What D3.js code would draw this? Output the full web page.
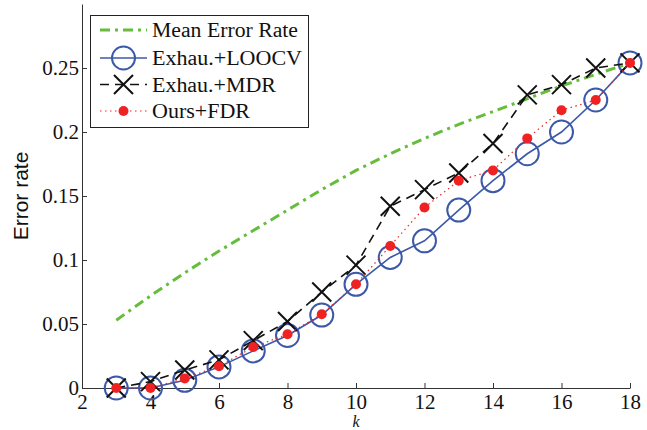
<!DOCTYPE html>
<html>
<head>
<meta charset="utf-8">
<script src="https://cdn.jsdelivr.net/npm/d3@7"></script>
<style>
  html, body { margin: 0; padding: 0; background: #fff; }
  svg { display: block; }
</style>
</head>
<body>
<div id="chart"></div>
<script>
// values
const kValues = [3, 4, 5, 6, 7, 8, 9, 10, 11, 12, 13, 14, 15, 16, 17, 18];
const meanError = [0.053, 0.072, 0.090, 0.107, 0.123, 0.139, 0.155, 0.170, 0.183, 0.195, 0.206, 0.216, 0.226, 0.236, 0.245, 0.254];
const loocv = [0, 0, 0.006, 0.0165, 0.029, 0.041, 0.057, 0.081, 0.102, 0.115, 0.139, 0.162, 0.183, 0.200, 0.225, 0.254];
const mdr = [0, 0.005, 0.014, 0.022, 0.037, 0.052, 0.075, 0.096, 0.142, 0.155, 0.168, 0.191, 0.229, 0.237, 0.250, 0.254];
const fdr = [0, 0, 0.0075, 0.017, 0.032, 0.042, 0.0576, 0.081, 0.111, 0.141, 0.162, 0.170, 0.195, 0.217, 0.225, 0.254];
const xTicks = [2, 4, 6, 8, 10, 12, 14, 16, 18];
const yTicks = [0, 0.05, 0.1, 0.15, 0.2, 0.25];
const legendNames = ["Mean Error Rate", "Exhau.+LOOCV", "Exhau.+MDR", "Ours+FDR"];

const width = 647;
const height = 430;
const serif = "'Liberation Serif', 'Times New Roman', serif";

const colGreen = "#66bd3c";
const colBlue = "#3c58a8";
const colBlack = "#111";
const colRed = "#ee2222";

const svg = d3.select("#chart")
  .append("svg")
  .attr("width", width)
  .attr("height", height);

svg.append("rect").attr("width", width).attr("height", height).attr("fill", "#fff");

const x = d3.scaleLinear().domain([2, 18]).range([82, 630]);
const y = d3.scaleLinear().domain([0, 0.3]).range([388, 4]);

// axes, ticks point inward like matlab
const xAxis = (g) => g
  .call(d3.axisBottom(x).tickValues(xTicks).tickSizeInner(-5).tickSizeOuter(0).tickPadding(6)
    .tickFormat(d3.format("d")))
  .call((g) => g.selectAll("text").attr("font-family", serif).attr("font-size", 21).attr("fill", "#111"))
  .call((g) => g.selectAll("line, path").attr("stroke", "#333"));

const yAxis = (g) => g
  .call(d3.axisLeft(y).tickValues(yTicks).tickSizeInner(-5).tickSizeOuter(0).tickPadding(3)
    .tickFormat((d) => d === 0 ? "0" : String(+d.toFixed(2))))
  .call((g) => g.selectAll("text").attr("font-family", serif).attr("font-size", 21).attr("fill", "#111"))
  .call((g) => g.selectAll("line, path").attr("stroke", "#333"));

svg.append("g").attr("transform", `translate(0,${y(0)})`).call(xAxis);
svg.append("g").attr("transform", `translate(${x(2)},0)`).call(yAxis);

// axis titles
svg.append("text")
  .attr("x", x(10))
  .attr("y", 427)
  .attr("text-anchor", "middle")
  .attr("font-family", serif)
  .attr("font-style", "italic")
  .attr("font-size", 16)
  .attr("fill", "#111")
  .text("k");

svg.append("text")
  .attr("transform", "translate(28,196) rotate(-90)")
  .attr("text-anchor", "middle")
  .attr("font-family", "'Liberation Sans', Arial, sans-serif")
  .attr("font-size", 21)
  .attr("fill", "#111")
  .text("Error rate");

const line = d3.line().x((d) => x(d[0])).y((d) => y(d[1]));
const pairs = (vals) => kValues.map((k, i) => [k, vals[i]]);

// mean error rate, dash-dot
svg.append("path")
  .datum(pairs(meanError))
  .attr("d", line)
  .attr("fill", "none")
  .attr("stroke", colGreen)
  .attr("stroke-width", 3)
  .attr("stroke-dasharray", "10,5,3,5");

// exhaustive + loocv, solid with circles
svg.append("path")
  .datum(pairs(loocv))
  .attr("d", line)
  .attr("fill", "none")
  .attr("stroke", colBlue)
  .attr("stroke-width", 1.6);
svg.append("g")
  .selectAll("circle")
  .data(pairs(loocv))
  .enter()
  .append("circle")
  .attr("cx", (d) => x(d[0]))
  .attr("cy", (d) => y(d[1]))
  .attr("r", 11.5)
  .attr("fill", "none")
  .attr("stroke", colBlue)
  .attr("stroke-width", 2);

// exhaustive + mdr, dashed with crosses
const crossPath = (cx, cy, s) =>
  `M${cx - s},${cy - s}L${cx + s},${cy + s}M${cx - s},${cy + s}L${cx + s},${cy - s}`;

svg.append("path")
  .datum(pairs(mdr))
  .attr("d", line)
  .attr("fill", "none")
  .attr("stroke", colBlack)
  .attr("stroke-width", 1.6)
  .attr("stroke-dasharray", "9,6");
svg.append("g")
  .selectAll("path")
  .data(pairs(mdr))
  .enter()
  .append("path")
  .attr("d", (d) => crossPath(x(d[0]), y(d[1]), 9.5))
  .attr("stroke", colBlack)
  .attr("stroke-width", 2);

// ours + fdr, dotted with filled dots
svg.append("path")
  .datum(pairs(fdr))
  .attr("d", line)
  .attr("fill", "none")
  .attr("stroke", colRed)
  .attr("stroke-width", 1.2)
  .attr("stroke-dasharray", "1.5,3.5");
svg.append("g")
  .selectAll("circle")
  .data(pairs(fdr))
  .enter()
  .append("circle")
  .attr("cx", (d) => x(d[0]))
  .attr("cy", (d) => y(d[1]))
  .attr("r", 5)
  .attr("fill", colRed);

// legend
const legend = svg.append("g");
legend.append("rect")
  .attr("x", 90.5)
  .attr("y", 15.5)
  .attr("width", 218)
  .attr("height", 112)
  .attr("fill", "#fff")
  .attr("stroke", "#222")
  .attr("stroke-width", 1);

const rowY = [30, 58, 84.5, 111];
const textWidths = [146, 150, 124, 98];
const sx0 = 100, sx1 = 147, scx = 123.5;

const styles = [
  { color: colGreen, width: 3, dash: "10,5,3,5" },
  { color: colBlue, width: 1.6, dash: null },
  { color: colBlack, width: 1.6, dash: "9,6" },
  { color: colRed, width: 1.2, dash: "1.5,3.5" },
];

legendNames.forEach((name, i) => {
  const st = styles[i];
  const ly = rowY[i];
  legend.append("line")
    .attr("x1", sx0).attr("x2", sx1)
    .attr("y1", ly).attr("y2", ly)
    .attr("stroke", st.color)
    .attr("stroke-width", st.width)
    .attr("stroke-dasharray", st.dash);
  if (i === 1) {
    legend.append("circle").attr("cx", scx).attr("cy", ly).attr("r", 11.5)
      .attr("fill", "none").attr("stroke", colBlue).attr("stroke-width", 2);
  } else if (i === 2) {
    legend.append("path").attr("d", crossPath(scx, ly, 9.5))
      .attr("stroke", colBlack).attr("stroke-width", 2);
  } else if (i === 3) {
    legend.append("circle").attr("cx", scx).attr("cy", ly).attr("r", 5).attr("fill", colRed);
  }
  legend.append("text")
    .attr("x", 152)
    .attr("y", ly + 7)
    .attr("font-family", serif)
    .attr("font-size", 20.5)
    .attr("textLength", textWidths[i])
    .attr("lengthAdjust", "spacingAndGlyphs")
    .attr("fill", "#111")
    .text(name);
});
</script>
</body>
</html>
